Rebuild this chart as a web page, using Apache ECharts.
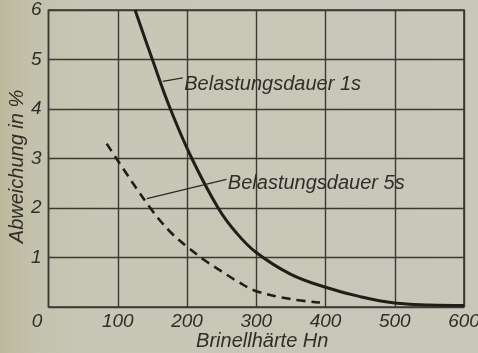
<!DOCTYPE html>
<html>
<head>
<meta charset="utf-8">
<script src="https://cdn.jsdelivr.net/npm/echarts@6/dist/echarts.min.js"></script>
<style>
  html, body { margin: 0; padding: 0; background: #c6c7b6; }
  #chart { width: 478px; height: 353px; }
</style>
</head>
<body>
<div id="chart"></div>
<script>
// Brinell hardness (x) vs. deviation in % (y) for two loading durations
const hardness1s = [125, 150, 176, 207, 245, 270, 300, 350, 400, 450, 500, 550, 600];
const deviation1s = [6.0, 5.0, 4.0, 3.0, 2.0, 1.52, 1.1, 0.66, 0.4, 0.21, 0.08, 0.04, 0.03];

const hardness5s = [84, 98, 147, 175, 200, 225, 250, 275, 300, 350, 392];
const deviation5s = [3.3, 3.0, 2.0, 1.53, 1.22, 0.95, 0.72, 0.5, 0.32, 0.16, 0.09];

const xTicks = [0, 100, 200, 300, 400, 500, 600];
const yTicks = [0, 1, 2, 3, 4, 5, 6];

const label1s = 'Belastungsdauer 1s';
const label5s = 'Belastungsdauer 5s';

const ink = '#2f2f28';
const font = "'Liberation Sans', 'DejaVu Sans', sans-serif";

const pairs = (xs, ys) => xs.map((x, i) => [x, ys[i]]);

const chart = echarts.init(document.getElementById('chart'), null, { renderer: 'canvas' });

chart.setOption({
  animation: false,
  backgroundColor: {
    type: 'linear', x: 0, y: 0, x2: 1, y2: 0,
    colorStops: [
      { offset: 0, color: '#bdb99c' },
      { offset: 0.07, color: '#c3c2ae' },
      { offset: 0.2, color: '#c6c7b6' },
      { offset: 1, color: '#c7c8b9' }
    ]
  },
  grid: {
    left: 48.5, right: 14, top: 10, bottom: 46,
    containLabel: false,
    outerBoundsMode: 'none',
    show: true, borderColor: '#3a3a32', borderWidth: 1.6,
    backgroundColor: 'transparent'
  },
  xAxis: {
    type: 'value',
    min: xTicks[0], max: xTicks[xTicks.length - 1], interval: 100,
    name: 'Brinellhärte Hn',
    nameLocation: 'middle',
    nameGap: 24,
    nameMoveOverlap: false,
    nameTextStyle: { color: ink, fontFamily: font, fontStyle: 'italic', fontSize: 20, padding: [0, 0, 0, 12] },
    axisLine: { show: false },
    axisTick: { show: false },
    splitLine: { show: true, lineStyle: { color: '#3a3a32', width: 1.4 } },
    axisLabel: {
      color: ink, fontFamily: font, fontStyle: 'italic', fontSize: 19, margin: 5,
      formatter: v => v === 0 ? '{z|0}' : String(v),
      rich: { z: { color: ink, fontFamily: font, fontStyle: 'italic', fontSize: 19, padding: [0, 23, 0, 0] } }
    }
  },
  yAxis: {
    type: 'value',
    min: yTicks[0], max: yTicks[yTicks.length - 1], interval: 1,
    name: 'Abweichung in %',
    nameLocation: 'middle',
    nameGap: 21,
    nameMoveOverlap: false,
    nameRotate: 90,
    nameTextStyle: { color: ink, fontFamily: font, fontStyle: 'italic', fontSize: 20, padding: [0, 16, 0, 0] },
    axisLine: { show: false },
    axisTick: { show: false },
    splitLine: { show: true, lineStyle: { color: '#3a3a32', width: 1.4 } },
    axisLabel: {
      color: ink, fontFamily: font, fontStyle: 'italic', fontSize: 19, margin: 7,
      formatter: v => v === 0 ? '' : String(v)
    }
  },
  series: [
    {
      name: label1s,
      type: 'line',
      data: pairs(hardness1s, deviation1s),
      smooth: 0.4,
      symbol: 'none',
      lineStyle: { color: '#1f1f1a', width: 3 },
      markLine: {
        silent: true, symbol: 'none',
        lineStyle: { color: '#2a2a24', width: 1.3, type: 'solid' },
        label: { show: false },
        data: [[{ coord: [165, 4.56] }, { coord: [194, 4.63] }]]
      },
      markPoint: {
        silent: true, symbol: 'circle', symbolSize: 0,
        label: {
          show: true, position: 'right', distance: 0,
          color: ink, fontFamily: font, fontStyle: 'italic', fontSize: 20,
          formatter: () => label1s
        },
        data: [{ coord: [196, 4.5] }]
      }
    },
    {
      name: label5s,
      type: 'line',
      data: pairs(hardness5s, deviation5s),
      smooth: 0.4,
      symbol: 'none',
      lineStyle: { color: '#1f1f1a', width: 2.6, type: [9, 6] },
      markLine: {
        silent: true, symbol: 'none',
        lineStyle: { color: '#2a2a24', width: 1.3, type: 'solid' },
        label: { show: false },
        data: [[{ coord: [142, 2.19] }, { coord: [257, 2.58] }]]
      },
      markPoint: {
        silent: true, symbol: 'circle', symbolSize: 0,
        label: {
          show: true, position: 'right', distance: 0,
          color: ink, fontFamily: font, fontStyle: 'italic', fontSize: 20,
          formatter: () => label5s
        },
        data: [{ coord: [259, 2.5] }]
      }
    }
  ]
});
</script>
</body>
</html>
